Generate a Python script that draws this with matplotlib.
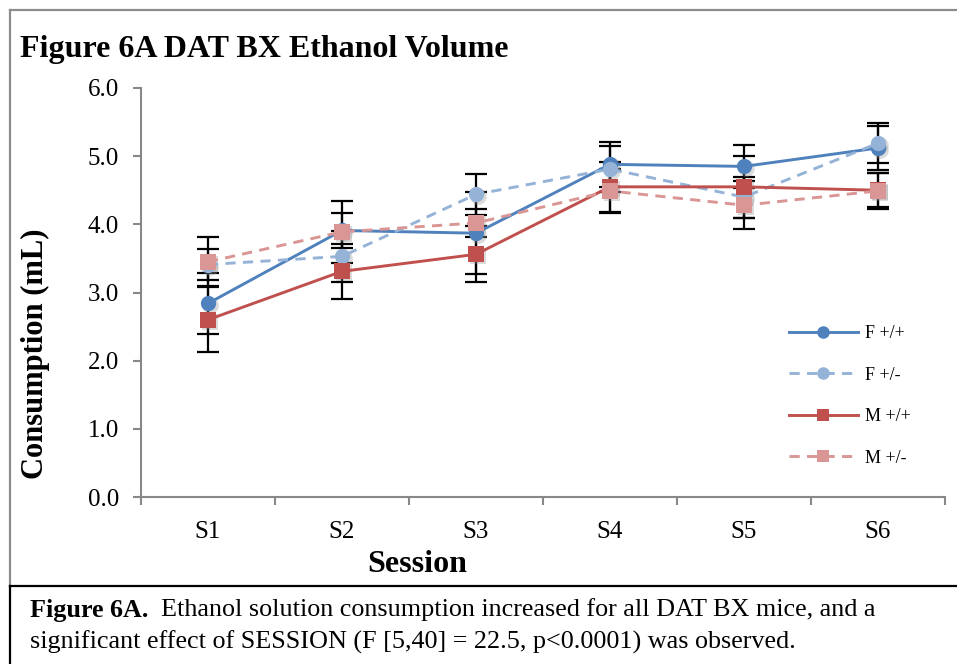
import matplotlib
matplotlib.use("Agg")
import matplotlib.pyplot as plt
from matplotlib.lines import Line2D
from matplotlib.transforms import ScaledTranslation

plt.rcParams['font.family'] = ['Liberation Serif', 'DejaVu Serif']

sessions = ["S1", "S2", "S3", "S4", "S5", "S6"]
yticks = [0.0, 1.0, 2.0, 3.0, 4.0, 5.0, 6.0]

f_wt = [2.84, 3.91, 3.87, 4.88, 4.85, 5.12]
f_wt_err = [0.45, 0.25, 0.60, 0.33, 0.32, 0.32]
f_het = [3.41, 3.53, 4.44, 4.81, 4.40, 5.19]
f_het_err = [0.23, 0.37, 0.30, 0.34, 0.30, 0.29]
m_wt = [2.60, 3.31, 3.56, 4.55, 4.55, 4.50]
m_wt_err = [0.48, 0.40, 0.41, 0.37, 0.45, 0.25]
m_het = [3.45, 3.89, 4.02, 4.49, 4.28, 4.49]
m_het_err = [0.36, 0.45, 0.20, 0.32, 0.35, 0.26]

series = [
    ("F +/+", f_wt, f_wt_err, "#4F81BD", "o", "-"),
    ("F +/-", f_het, f_het_err, "#95B3D7", "o", "--"),
    ("M +/+", m_wt, m_wt_err, "#C0504D", "s", "-"),
    ("M +/-", m_het, m_het_err, "#D99694", "s", "--"),
]

W, H = 957, 664
fig = plt.figure(figsize=(W / 100, H / 100), dpi=100)

def fx(px):
    return px / W

def fy(py):
    return 1 - py / H

ax = fig.add_axes([fx(141), fy(497), fx(945) - fx(141), fy(88) - fy(497)])

x = list(range(1, len(sessions) + 1))
shadow_shift = ax.transData + ScaledTranslation(1.5 / 72, -1.5 / 72, fig.dpi_scale_trans)

handles = []
for name, vals, errs, color, marker, ls in series:
    ax.errorbar(x, vals, yerr=errs, fmt="none", ecolor="black", elinewidth=1.6,
                capsize=8, capthick=1.6, zorder=2)
    # soft drop shadow under the markers
    ax.plot(x, vals, ls="none", marker=marker, markersize=12, markeredgewidth=0,
            color="#9a9a9a", alpha=0.35, zorder=2.5, transform=shadow_shift)
    line, = ax.plot(x, vals, color=color, lw=2.1, ls=ls, marker=marker,
                    markersize=11, markeredgewidth=0, zorder=3, label=name)
    if ls == "--":
        line.set_dashes((3.5, 2.5))
    handles.append(line)

ax.set_xlim(0.5, 6.5)
ax.set_ylim(0, 6)
ax.set_yticks(yticks)
ax.set_yticklabels([f"{v:.1f}" for v in yticks], fontsize=18)
ax.set_xticks(x)
ax.set_xticklabels(sessions, fontsize=18)
ax.set_xticks([i + 0.5 for i in range(0, 7)], minor=True)
ax.tick_params(axis="x", which="major", length=0, pad=17)
ax.tick_params(axis="x", which="minor", length=6, width=1.5, color="#888888", direction="out")
ax.tick_params(axis="y", length=6, width=1.5, color="#888888", direction="out", pad=10)
for s in ["top", "right"]:
    ax.spines[s].set_visible(False)
for s in ["left", "bottom"]:
    ax.spines[s].set_color("#888888")
    ax.spines[s].set_linewidth(1.5)

leg = ax.legend(handles=handles, loc="upper left", bbox_to_anchor=(fx(780), fy(316)),
                bbox_transform=fig.transFigure, frameon=False, fontsize=13,
                handlelength=3.8, handletextpad=0.4, labelspacing=1.36, borderpad=0,
                markerscale=0.82)

fig.text(fx(20), fy(50), "Figure 6A DAT BX Ethanol Volume", fontsize=23,
         fontweight="bold", ha="left", va="center")
fig.text(fx(35), fy(354), "Consumption (mL)", fontsize=22, fontweight="bold",
         rotation=90, ha="center", va="center")
fig.text(fx(417), fy(565), "Session", fontsize=23, fontweight="bold",
         ha="center", va="center")

# Frame around the chart area and the caption box
tf = fig.transFigure
fig.add_artist(Line2D([fx(10), fx(10)], [fy(10), fy(586)], transform=tf, color="#8c8c8c", lw=1.6))
fig.add_artist(Line2D([fx(10), 1.0], [fy(10), fy(10)], transform=tf, color="#8c8c8c", lw=1.6))
fig.add_artist(Line2D([fx(10), 1.0], [fy(586), fy(586)], transform=tf, color="black", lw=1.6))
fig.add_artist(Line2D([fx(10), fx(10)], [fy(586), 0.0], transform=tf, color="black", lw=1.6))

cap_size = 18.8
bold = fig.text(fx(30), fy(610), "Figure 6A.", fontsize=cap_size, fontweight="bold",
                ha="left", va="center")
fig.canvas.draw()
bb = bold.get_window_extent(renderer=fig.canvas.get_renderer())
fig.text(bb.x1 / W, fy(610), "  Ethanol solution consumption increased for all DAT BX mice, and a",
         fontsize=cap_size, ha="left", va="center")
fig.text(fx(30), fy(642), "significant effect of SESSION (F [5,40] = 22.5, p<0.0001) was observed.",
         fontsize=cap_size, ha="left", va="center")

fig.savefig("out.png", dpi=100)
